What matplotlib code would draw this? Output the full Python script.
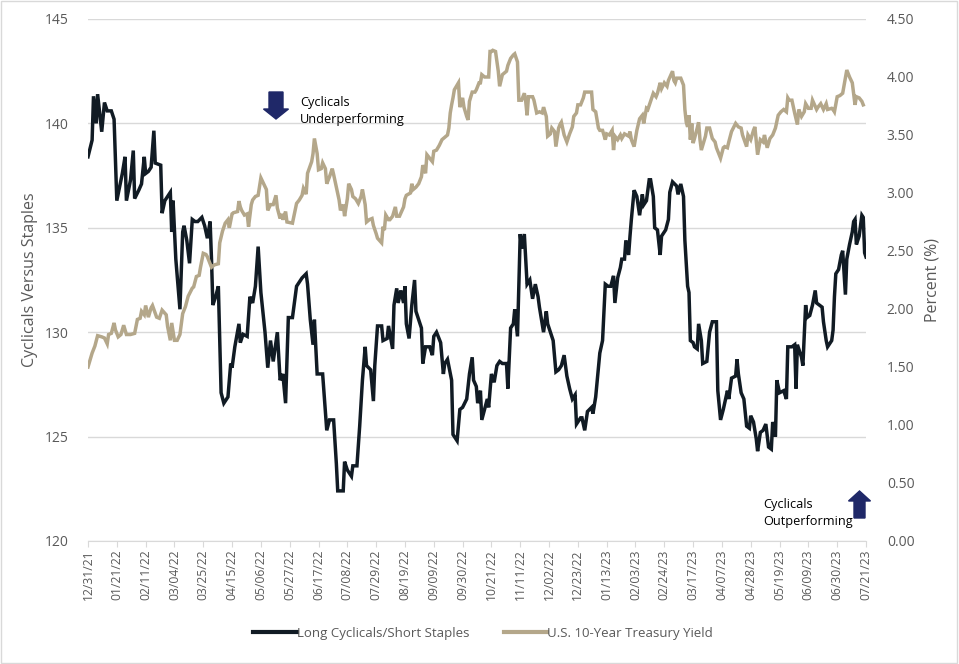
import numpy as np
import pandas as pd
import matplotlib
matplotlib.use("Agg")
import matplotlib.pyplot as plt
import matplotlib.dates as mdates
from matplotlib.patches import FancyArrow, Rectangle
from matplotlib.lines import Line2D

plt.rcParams['font.family'] = ['Open Sans', 'DejaVu Sans']

start = pd.Timestamp('2021-12-31')
end = pd.Timestamp('2023-07-21')

# Long Cyclicals / Short Staples (left axis), days since 12/31/21
cyc_days = [0, 3, 4, 6, 7, 9, 10, 12, 14, 17, 19, 21, 25, 27, 28, 31, 33, 34, 37, 39,
            41, 42, 44, 46, 48, 49, 53, 54, 56, 58, 60, 61, 62, 64, 67, 69, 70, 72, 74, 76,
            78, 80, 83, 85, 87, 89, 90, 91, 93, 95, 96, 97, 99, 102, 104, 105, 107, 110, 111, 113,
            116, 118, 120, 122, 124, 126, 129, 131, 133, 135, 138, 140, 142, 144, 146, 149, 152, 153, 156, 159,
            160, 162, 164, 165, 167, 171, 174, 176, 179, 181, 182, 186, 187, 189, 192, 193, 196, 198, 200, 202,
            203, 206, 208, 209, 211, 214, 215, 218, 219, 222, 223, 225, 226, 228, 230, 231, 232, 234, 236, 238,
            239, 241, 243, 244, 246, 249, 251, 252, 254, 257, 259, 260, 262, 265, 266, 269, 271, 273, 276, 278,
            280, 281, 283, 284, 286, 287, 291, 292, 294, 296, 298, 300, 302, 305, 306, 308, 310, 311, 313, 315,
            316, 318, 320, 322, 324, 326, 328, 329, 332, 334, 335, 337, 339, 341, 343, 345, 347, 349, 351, 353,
            355, 356, 359, 360, 362, 364, 367, 368, 370, 372, 373, 375, 377, 379, 381, 383, 384, 386, 388, 389,
            391, 392, 394, 395, 396, 398, 400, 402, 404, 405, 407, 409, 410, 412, 413, 415, 417, 418, 421, 423,
            424, 426, 429, 430, 432, 434, 435, 437, 438, 439, 441, 442, 444, 445, 447, 448, 451, 453, 455, 458,
            459, 461, 463, 466, 467, 469, 472, 473, 474, 476, 478, 480, 482, 483, 485, 487, 488, 490, 492, 494,
            496, 498, 499, 501, 502, 504, 507, 509, 510, 513, 515, 516, 517, 520, 521, 523, 524, 526, 528, 530,
            531, 533, 535, 536, 538, 539, 542, 543, 544, 545, 547, 549, 550, 552, 553, 555, 557, 558, 559, 560,
            562, 564, 565, 566, 567]
cyc_vals = [138.4, 139.2, 141.3, 140.0, 141.4, 140.2, 139.6, 141.0, 140.6, 140.6, 140.2, 136.3, 137.6, 138.4, 136.3, 137.3, 138.7, 136.4, 136.8, 137.1,
            138.4, 137.6, 137.7, 137.9, 139.65, 138.1, 138.0, 135.7, 136.3, 136.5, 136.7, 134.8, 136.3, 133.5, 131.1, 134.8, 135.1, 134.4, 133.3, 135.4,
            135.3, 135.3, 135.5, 135.1, 134.5, 135.3, 133.5, 131.3, 131.7, 132.2, 129.6, 127.1, 126.6, 126.9, 128.5, 128.3, 129.3, 130.4, 129.5, 129.9,
            129.8, 131.7, 131.4, 132.2, 134.1, 131.9, 130.0, 128.3, 129.6, 128.6, 130.0, 127.7, 128.0, 126.6, 130.7, 130.7, 132.2, 132.3, 132.6, 132.8,
            132.3, 130.6, 129.4, 130.6, 128.0, 128.0, 125.3, 125.8, 125.8, 123.7, 122.4, 122.4, 123.8, 123.4, 123.1, 123.6, 123.6, 125.5, 127.7, 129.3,
            128.4, 128.2, 126.7, 128.4, 130.3, 130.3, 129.6, 129.7, 130.3, 129.2, 131.3, 132.1, 131.4, 132.0, 131.4, 132.2, 130.4, 129.7, 131.3, 132.5,
            131.0, 130.6, 130.2, 128.5, 129.3, 129.3, 128.9, 129.8, 130.0, 129.5, 128.0, 128.5, 128.7, 127.7, 125.1, 124.8, 126.3, 126.4, 126.8, 128.0,
            128.8, 127.7, 127.4, 126.6, 127.2, 125.8, 126.8, 126.4, 128.0, 127.6, 128.4, 128.6, 128.5, 128.5, 127.3, 130.2, 130.4, 131.1, 129.8, 134.7,
            134.0, 134.7, 132.3, 132.5, 131.6, 132.3, 131.7, 131.2, 130.0, 131.0, 130.4, 130.0, 129.6, 128.1, 128.2, 128.4, 128.9, 127.9, 127.3, 126.8,
            127.0, 125.6, 125.9, 125.9, 125.3, 126.2, 126.4, 126.1, 126.9, 128.3, 129.0, 129.6, 132.3, 132.2, 132.2, 132.7, 131.4, 132.6, 133.1, 133.5,
            133.5, 134.4, 133.7, 134.6, 135.4, 136.8, 136.5, 135.6, 136.6, 136.1, 136.3, 137.3, 137.3, 136.5, 135.0, 134.9, 133.7, 134.6, 134.9, 135.4,
            136.7, 137.2, 137.0, 136.6, 137.1, 136.5, 134.4, 132.2, 131.9, 129.6, 129.5, 129.3, 129.2, 130.4, 129.6, 128.5, 128.6, 130.0, 130.5, 130.5,
            127.2, 125.8, 126.3, 127.2, 126.8, 127.8, 127.9, 128.7, 128.0, 127.1, 126.8, 125.5, 125.4, 126.0, 125.7, 124.9, 124.3, 125.2, 125.3, 125.6,
            124.5, 124.4, 125.7, 125.0, 127.7, 127.1, 127.2, 126.8, 129.3, 129.3, 129.4, 127.3, 129.4, 128.8, 128.4, 131.3, 130.7, 130.8, 131.3, 132.0,
            131.4, 131.3, 131.2, 130.5, 129.6, 129.3, 129.6, 130.1, 131.7, 132.8, 133.0, 133.7, 133.9, 131.8, 133.5, 134.2, 134.8, 135.3, 135.4, 134.2,
            134.6, 135.6, 135.5, 133.8, 133.6]

# U.S. 10-Year Treasury Yield (right axis), days since 12/31/21
ust_days = [0, 3, 5, 7, 10, 12, 14, 15, 17, 19, 20, 22, 24, 26, 28, 31, 34, 36, 38, 39,
            41, 42, 44, 46, 47, 50, 52, 54, 57, 58, 60, 61, 63, 65, 67, 69, 71, 73, 76, 77,
            79, 81, 82, 84, 86, 87, 90, 92, 95, 96, 98, 100, 102, 103, 105, 106, 109, 110, 111, 112,
            114, 116, 117, 119, 120, 122, 124, 126, 128, 130, 131, 133, 135, 137, 138, 140, 141, 142, 144, 145,
            149, 152, 154, 156, 157, 159, 160, 163, 164, 165, 167, 168, 170, 171, 173, 174, 176, 178, 179, 181,
            183, 184, 186, 187, 189, 190, 192, 193, 195, 197, 199, 200, 202, 203, 205, 207, 208, 210, 211, 214,
            215, 216, 217, 219, 220, 222, 224, 225, 227, 230, 231, 232, 235, 236, 237, 239, 241, 243, 244, 246,
            247, 249, 251, 252, 254, 256, 258, 259, 262, 263, 264, 265, 266, 267, 269, 270, 271, 273, 274, 276,
            277, 278, 280, 282, 283, 285, 286, 287, 289, 292, 293, 294, 295, 297, 299, 300, 302, 303, 305, 306,
            308, 310, 311, 313, 314, 316, 318, 319, 320, 321, 324, 325, 327, 329, 331, 332, 334, 335, 337, 338,
            340, 341, 343, 344, 345, 347, 349, 351, 353, 354, 356, 357, 359, 361, 362, 364, 367, 368, 370, 372,
            373, 375, 377, 378, 380, 382, 383, 384, 386, 388, 389, 391, 394, 395, 396, 398, 400, 402, 404, 405,
            407, 408, 410, 412, 414, 415, 417, 418, 420, 422, 423, 426, 427, 428, 429, 432, 434, 435, 436, 437,
            438, 439, 440, 441, 442, 444, 445, 446, 447, 450, 451, 453, 455, 457, 458, 461, 463, 464, 466, 467,
            469, 472, 474, 476, 477, 480, 481, 483, 485, 486, 488, 490, 492, 493, 495, 497, 499, 501, 503, 505,
            507, 509, 510, 511, 513, 515, 517, 518, 520, 522, 523, 525, 527, 528, 531, 532, 534, 536, 538, 539,
            542, 543, 544, 546, 548, 550, 552, 553, 555, 557, 559, 560, 562, 564, 565]
ust_vals = [1.50, 1.62, 1.68, 1.77, 1.76, 1.75, 1.70, 1.78, 1.79, 1.88, 1.82, 1.76, 1.78, 1.86, 1.78, 1.78, 1.79, 1.91, 1.92, 1.98,
            1.95, 2.03, 1.93, 2.01, 2.03, 1.93, 1.92, 1.99, 1.95, 1.85, 1.73, 1.88, 1.73, 1.73, 1.78, 1.96, 2.02, 2.11, 2.18, 2.19,
            2.28, 2.29, 2.36, 2.48, 2.47, 2.45, 2.36, 2.38, 2.39, 2.57, 2.67, 2.74, 2.77, 2.70, 2.82, 2.83, 2.84, 2.93, 2.88, 2.85,
            2.81, 2.82, 2.71, 2.90, 2.94, 2.97, 2.98, 3.13, 3.08, 3.03, 2.85, 2.90, 2.90, 2.98, 2.87, 2.78, 2.82, 2.77, 2.84, 2.75,
            2.74, 2.91, 2.94, 2.98, 3.04, 2.99, 3.17, 3.27, 3.34, 3.47, 3.34, 3.20, 3.21, 3.26, 3.21, 3.08, 3.14, 3.21, 3.16, 3.05,
            2.94, 2.85, 2.90, 2.80, 2.95, 3.08, 3.03, 2.97, 2.95, 2.91, 2.97, 3.03, 2.90, 2.75, 2.77, 2.78, 2.72, 2.65, 2.61, 2.57,
            2.71, 2.68, 2.81, 2.77, 2.77, 2.80, 2.88, 2.80, 2.80, 2.88, 2.95, 2.98, 3.00, 3.08, 3.03, 3.05, 3.08, 3.14, 3.24, 3.17,
            3.33, 3.30, 3.27, 3.36, 3.37, 3.41, 3.46, 3.47, 3.50, 3.56, 3.69, 3.76, 3.82, 3.89, 3.93, 3.95, 3.74, 3.82, 3.74, 3.66,
            3.63, 3.79, 3.87, 3.87, 3.89, 3.95, 3.95, 4.02, 4.00, 4.00, 4.22, 4.22, 4.23, 4.22, 4.05, 3.92, 4.02, 4.03, 4.05, 4.10,
            4.16, 4.19, 4.20, 4.13, 3.80, 3.80, 3.86, 3.79, 3.67, 3.83, 3.83, 3.80, 3.69, 3.70, 3.69, 3.74, 3.66, 3.49, 3.51, 3.56,
            3.53, 3.40, 3.56, 3.59, 3.61, 3.50, 3.44, 3.51, 3.57, 3.66, 3.69, 3.76, 3.76, 3.82, 3.87, 3.87, 3.87, 3.72, 3.70, 3.56,
            3.54, 3.54, 3.46, 3.51, 3.50, 3.54, 3.37, 3.49, 3.46, 3.50, 3.47, 3.51, 3.49, 3.53, 3.46, 3.40, 3.54, 3.64, 3.67, 3.60,
            3.73, 3.72, 3.79, 3.86, 3.83, 3.86, 3.95, 3.90, 3.95, 3.92, 3.97, 4.05, 3.97, 3.95, 3.99, 3.99, 3.93, 3.72, 3.61, 3.57,
            3.67, 3.46, 3.60, 3.43, 3.47, 3.56, 3.61, 3.46, 3.37, 3.49, 3.56, 3.56, 3.47, 3.44, 3.39, 3.30, 3.39, 3.40, 3.39, 3.44,
            3.53, 3.60, 3.57, 3.56, 3.50, 3.40, 3.50, 3.46, 3.54, 3.57, 3.33, 3.46, 3.44, 3.50, 3.39, 3.47, 3.50, 3.56, 3.67, 3.70,
            3.72, 3.70, 3.82, 3.80, 3.80, 3.69, 3.59, 3.72, 3.66, 3.70, 3.77, 3.73, 3.73, 3.80, 3.72, 3.74, 3.77, 3.72, 3.77, 3.72,
            3.73, 3.72, 3.70, 3.83, 3.84, 3.86, 3.99, 4.06, 4.00, 3.95, 3.76, 3.83, 3.82, 3.79, 3.76]

cyc_dates = start + pd.to_timedelta(cyc_days, unit='D')
ust_dates = start + pd.to_timedelta(ust_days, unit='D')

black = '#111b24'
tan = '#b4a78a'
navy = '#1f2868'
grey = '#595959'
gridc = '#d9d9d9'

fig = plt.figure(figsize=(9.59, 6.64), dpi=100)
fig.patches.append(Rectangle((0.001, 0.001), 0.997, 0.997, transform=fig.transFigure,
                             fill=False, edgecolor=gridc, linewidth=1))
ax = fig.add_axes([88 / 959, 1 - 541 / 664, 778 / 959, 522 / 664])
ax2 = ax.twinx()

ax.plot(cyc_dates, cyc_vals, color=black, linewidth=2.5, solid_joinstyle='miter')
ax2.plot(ust_dates, ust_vals, color=tan, linewidth=2.5, solid_joinstyle='miter')

ax.set_xlim(start, end)
ax.set_ylim(120, 145)
ax.set_yticks(np.arange(120, 146, 5))
ax2.set_ylim(0, 4.5)
ax2.set_yticks(np.arange(0, 4.51, 0.5))
ax2.yaxis.set_major_formatter(matplotlib.ticker.FormatStrFormatter('%.2f'))

ax.set_xticks(pd.date_range(start, end, freq='21D'))
ax.xaxis.set_major_formatter(mdates.DateFormatter('%m/%d/%y'))
for lab in ax.get_xticklabels():
    lab.set_rotation(90)

ax.grid(axis='y', color=gridc, linewidth=1)
ax.set_axisbelow(True)
for a in (ax, ax2):
    for s in ('top', 'left', 'right'):
        a.spines[s].set_visible(False)
    a.spines['bottom'].set_color(gridc)
ax2.spines['bottom'].set_visible(False)

ax.tick_params(axis='x', colors=grey, labelsize=8.7, length=4, color=gridc, pad=2)
ax.tick_params(axis='y', colors=grey, labelsize=10, length=0, pad=14)
ax2.tick_params(axis='y', colors=grey, labelsize=10, length=0, pad=15)

ax.set_ylabel('Cyclicals Versus Staples', fontsize=11.5, color=grey, labelpad=5)
ax2.set_ylabel('Percent (%)', fontsize=11.5, color=grey, labelpad=7)

# annotations
ax.add_patch(FancyArrow(276 / 959, 1 - 92 / 664, 0, -17 / 664, width=14 / 959, head_width=25 / 959,
                        head_length=10 / 664, length_includes_head=False, transform=fig.transFigure,
                        color=navy, clip_on=False))
fig.text(300 / 959, 1 - 111 / 664, 'Cyclicals\nUnderperforming', fontsize=9.2, color='black',
         va='center', ha='left', linespacing=1.45)
ax.add_patch(FancyArrow(859.5 / 959, 1 - 518 / 664, 0, 17 / 664, width=11 / 959, head_width=22 / 959,
                        head_length=10 / 664, length_includes_head=False, transform=fig.transFigure,
                        color=navy, clip_on=False))
fig.text(763 / 959, 1 - 513 / 664, 'Cyclicals\nOutperforming', fontsize=9.2, color='black',
         va='center', ha='left', linespacing=1.45)

handles = [Line2D([], [], color=black, linewidth=3), Line2D([], [], color=tan, linewidth=3)]
fig.legend(handles, ['Long Cyclicals/Short Staples', 'U.S. 10-Year Treasury Yield'],
           loc='center', bbox_to_anchor=(483 / 959, 1 - 633 / 664), ncol=2, frameon=False,
           fontsize=9.5, labelcolor=grey, handlelength=3.3, handletextpad=0.0, columnspacing=2.6)

fig.savefig('out.png', dpi=100)
